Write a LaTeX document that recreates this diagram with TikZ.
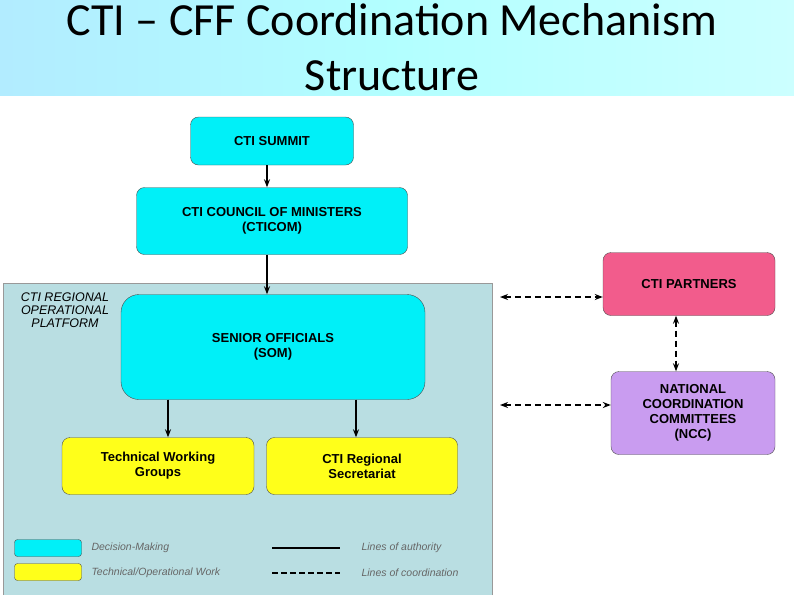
\documentclass[tikz,border=0pt]{standalone}
\usepackage{fontspec}
\setmainfont{Liberation Sans}
\newfontfamily\titlefont{Carlito}
\usetikzlibrary{arrows.meta}
\definecolor{decision}{HTML}{00F0F8}
\definecolor{techwork}{HTML}{FFFF1A}
\definecolor{platform}{HTML}{B9DEE2}
\definecolor{partner}{HTML}{F25C8C}
\definecolor{ncccol}{HTML}{C99CF0}
\tikzset{
  box/.style={draw=black!70, rounded corners=8pt, align=center, font=\bfseries\fontsize{13}{15}\selectfont, inner sep=0pt},
  authority/.style={line width=2.2pt, -{Stealth[length=8pt]}},
  coord/.style={line width=2.6pt, dash pattern=on 6pt off 4pt, {Stealth[length=8pt]}-{Stealth[length=8pt]}},
  legendtext/.style={anchor=west, font=\itshape\fontsize{10.5}{11}\selectfont, text=black!60}
}
\begin{document}
\begin{tikzpicture}[x=1pt,y=-1pt]
\useasboundingbox (0,0) rectangle (794,595);
% banner
\fill[left color=blue!25!cyan!30, right color=cyan!20, middle color=white!70!cyan] (0,0) rectangle (794,95);
\node[font=\titlefont\fontsize{46}{48}\selectfont] (title) at (392,20) {CTI – CFF Coordination Mechanism};
\node[font=\titlefont\fontsize{46}{48}\selectfont] (title2) at (392,76) {Structure};
% platform
\fill[platform] (3,283) rectangle (492,595);
\draw[black!40] (492,595) -- (492,283) -- (3,283) -- (3,595);
\node[align=center, font=\itshape\fontsize{12.5}{13}\selectfont] (plat) at (65,310) {CTI REGIONAL\\OPERATIONAL\\PLATFORM};
% boxes
\node[box, fill=decision, minimum width=163pt, minimum height=48pt] (summit) at (272,141) {CTI SUMMIT};
\node[box, fill=decision, minimum width=271pt, minimum height=67pt] (council) at (272,221) {CTI COUNCIL OF MINISTERS\\(CTICOM)};
\node[box, fill=decision, minimum width=304pt, minimum height=105pt, rounded corners=18pt] (som) at (273,347) {SENIOR OFFICIALS\\(SOM)};
\node[box, fill=techwork, minimum width=192pt, minimum height=57pt] (twg) at (158,466) {Technical Working\\Groups};
\node[box, fill=techwork, minimum width=191pt, minimum height=57pt] (sec) at (362,466) {CTI Regional\\Secretariat};
\node[box, fill=partner, minimum width=172pt, minimum height=63pt] (partners) at (689,284) {CTI PARTNERS};
\node[box, fill=ncccol, minimum width=164pt, minimum height=83pt] (ncc) at (693,413) {NATIONAL\\COORDINATION\\COMMITTEES\\(NCC)};
\coordinate (platA) at (500,297);
\coordinate (platB) at (500,405);
% lines of authority
\draw[authority] (summit.south -| 267,0) -- (council.north -| 267,0);
\draw[authority] (council.south -| 267,0) -- (som.north -| 267,0);
\draw[authority] (som.south -| 168,0) -- (twg.north -| 168,0);
\draw[authority] (som.south -| 356,0) -- (sec.north -| 356,0);
% lines of coordination
\draw[coord] (platA) -- (partners.west |- platA);
\draw[coord] (platB) -- (ncc.west |- platB);
\draw[coord] (partners.south -| 676,0) -- (ncc.north -| 676,0);
% legend
\node[draw=black!70, fill=decision, rounded corners=3pt, minimum width=67pt, minimum height=17pt] (legdec) at (48,548) {};
\node[draw=black!70, fill=techwork, rounded corners=3pt, minimum width=67pt, minimum height=17pt] (legtech) at (48,572) {};
\node[legendtext] (legdectext) at (88,548) {Decision-Making};
\node[legendtext] (legtechtext) at (88,573) {Technical/Operational Work};
\coordinate (legA1) at (272,548); \coordinate (legA2) at (340,548);
\coordinate (legC1) at (272,573); \coordinate (legC2) at (340,573);
\draw[line width=2.6pt] (legA1) -- (legA2);
\draw[line width=2.6pt, dash pattern=on 6pt off 3pt] (legC1) -- (legC2);
\node[legendtext] (legauth) at (358,548) {Lines of authority};
\node[legendtext] (legcoord) at (358,573) {Lines of coordination};
\end{tikzpicture}
\end{document}
